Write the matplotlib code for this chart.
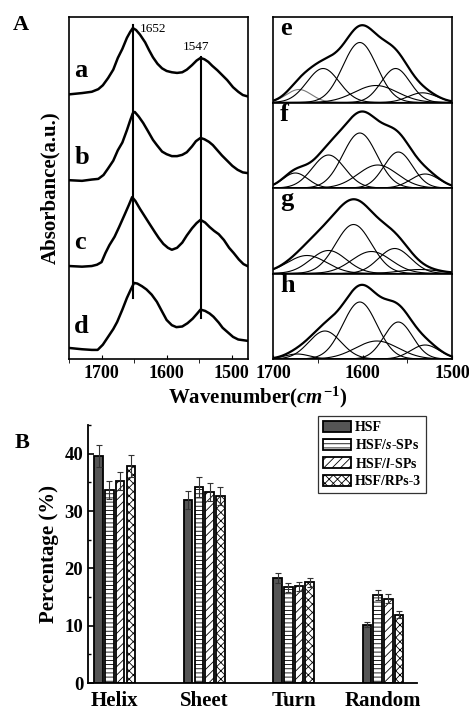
import numpy as np
import matplotlib
matplotlib.use('Agg')
from matplotlib import pyplot as plt
from matplotlib.ticker import MultipleLocator

plt.rcParams['font.family'] = 'Liberation Serif'
plt.rcParams['font.weight'] = 'bold'
plt.rcParams['axes.labelweight'] = 'bold'
plt.rcParams['mathtext.fontset'] = 'custom'
plt.rcParams['mathtext.it'] = 'Liberation Serif:italic:bold'
plt.rcParams['mathtext.rm'] = 'Liberation Serif:bold'
plt.rcParams['mathtext.bf'] = 'Liberation Serif:bold'
plt.rcParams['hatch.linewidth'] = 0.6

# ---- panel A: FTIR spectra (wavenumber, absorbance a.u.) ----
wn_a = [1750, 1730, 1715, 1705, 1698, 1690, 1682, 1675, 1668, 1661, 1656, 1652, 1647, 1641,
        1633, 1627, 1621, 1614, 1607, 1600, 1592, 1584, 1576, 1569, 1561, 1554, 1548, 1542,
        1536, 1530, 1522, 1515, 1507, 1498, 1490, 1483, 1476]
abs_a = [-0.02, 0.00, 0.02, 0.06, 0.12, 0.23, 0.36, 0.54, 0.68, 0.85, 0.94, 1.00, 0.97, 0.90,
         0.78, 0.66, 0.55, 0.45, 0.38, 0.34, 0.32, 0.31, 0.32, 0.36, 0.43, 0.50, 0.54, 0.52,
         0.48, 0.42, 0.35, 0.28, 0.20, 0.09, 0.02, -0.03, -0.05]

wn_b = [1750, 1730, 1715, 1705, 1697, 1690, 1682, 1675, 1668, 1661, 1656, 1652, 1649, 1643,
        1636, 1629, 1621, 1615, 1607, 1600, 1592, 1584, 1576, 1569, 1561, 1555, 1548, 1542,
        1535, 1529, 1522, 1515, 1507, 1499, 1491, 1483, 1476]
abs_b = [0.00, -0.01, 0.01, 0.02, 0.08, 0.18, 0.30, 0.46, 0.58, 0.77, 0.92, 1.03, 1.05, 0.98,
         0.88, 0.76, 0.62, 0.54, 0.44, 0.40, 0.37, 0.37, 0.39, 0.43, 0.52, 0.60, 0.65, 0.63,
         0.59, 0.54, 0.46, 0.38, 0.30, 0.22, 0.16, 0.12, 0.11]

wn_c = [1750, 1730, 1715, 1707, 1700, 1694, 1688, 1680, 1673, 1665, 1658, 1653, 1648, 1641,
        1634, 1627, 1618, 1612, 1605, 1598, 1592, 1584, 1576, 1569, 1561, 1554, 1548, 1541,
        1534, 1527, 1520, 1512, 1504, 1497, 1489, 1482, 1476]
abs_c = [0.00, -0.01, 0.00, 0.02, 0.06, 0.20, 0.32, 0.45, 0.60, 0.78, 0.94, 1.06, 1.00, 0.88,
         0.77, 0.66, 0.52, 0.43, 0.34, 0.28, 0.25, 0.28, 0.36, 0.47, 0.58, 0.66, 0.71, 0.67,
         0.60, 0.54, 0.49, 0.40, 0.28, 0.20, 0.10, 0.03, 0.00]

wn_d = [1750, 1730, 1715, 1706, 1698, 1690, 1682, 1676, 1668, 1661, 1655, 1650, 1645, 1638,
        1631, 1623, 1615, 1607, 1600, 1592, 1585, 1576, 1568, 1560, 1553, 1548, 1541, 1534,
        1528, 1520, 1514, 1506, 1498, 1490, 1483, 1476]
abs_d = [0.03, 0.01, 0.00, 0.00, 0.08, 0.20, 0.32, 0.43, 0.62, 0.80, 0.93, 1.03, 1.02, 0.98,
         0.93, 0.85, 0.74, 0.59, 0.46, 0.38, 0.35, 0.36, 0.41, 0.48, 0.56, 0.62, 0.60, 0.56,
         0.51, 0.42, 0.34, 0.27, 0.20, 0.16, 0.15, 0.14]

spec_names = ['a', 'b', 'c', 'd']
peak_marks = [1652, 1547]

# ---- panels e-h: fitted band components (centre, height, sigma) ----
comp_e = [(1671, 13, 14), (1644, 34, 18), (1603, 60, 19), (1585, 17, 24), (1563, 34, 16), (1533, 9.7, 16)]
comp_f = [(1675, 15, 14), (1638, 33, 18), (1603, 55, 19), (1583, 23, 22), (1560, 36, 16), (1530, 14, 16)]
comp_g = [(1662, 18, 22), (1638, 23, 20), (1610, 49, 20), (1590, 22, 22), (1564, 25, 18), (1536, 4, 22)]
comp_h = [(1673, 5, 14), (1642, 28, 18), (1603, 57, 19), (1584, 18, 24), (1560, 37, 16), (1530, 14, 16)]
fit_names = ['e', 'f', 'g', 'h']

# ---- panel B: secondary structure content ----
structures = ['Helix', 'Sheet', 'Turn', 'Random']
samples = ['HSF', 'HSF/$\\mathit{s}$-SPs', 'HSF/$\\mathit{l}$-SPs', 'HSF/RPs-3']
pct_hsf = [39.6, 31.9, 18.3, 10.2]
pct_s = [33.7, 34.2, 16.7, 15.3]
pct_l = [35.2, 33.3, 16.9, 14.7]
pct_rps = [37.9, 32.6, 17.6, 11.9]
err_hsf = [1.9, 1.6, 0.9, 0.5]
err_s = [1.6, 1.7, 0.8, 0.9]
err_l = [1.6, 1.6, 0.8, 0.8]
err_rps = [1.9, 1.6, 0.8, 0.6]

W, H = 469, 706
fig = plt.figure(figsize=(W / 100, H / 100), dpi=100)


def box(x0, y0, x1, y1):
    return [x0 / W, 1 - y1 / H, (x1 - x0) / W, (y1 - y0) / H]


# panel A
axA = fig.add_axes(box(69, 17, 248, 359))
offsets = [4.09, 2.75, 1.43, 0.14]
for wn, ab, off, nm, ypos in zip([wn_a, wn_b, wn_c, wn_d], [abs_a, abs_b, abs_c, abs_d],
                                 offsets, spec_names, [0.845, 0.588, 0.342, 0.094]):
    axA.plot(wn, np.array(ab) + off, color='black', lw=1.8)
    axA.text(0.03, ypos, nm, transform=axA.transAxes, fontsize=19, va='center', ha='left')
axA.plot([peak_marks[0]] * 2, [0.94, 5.14], color='black', lw=1.5)
axA.plot([peak_marks[1]] * 2, [0.63, 4.65], color='black', lw=1.5)
axA.text(1641, 5.08, str(peak_marks[0]), fontsize=9.5, fontweight='normal', va='center', ha='left')
axA.text(1555, 4.80, str(peak_marks[1]), fontsize=9.5, fontweight='normal', va='center', ha='center')
axA.set_xlim(1750, 1475)
axA.set_ylim(0, 5.26)
axA.set_yticks([])
axA.xaxis.set_major_locator(MultipleLocator(100))
axA.xaxis.set_minor_locator(MultipleLocator(50))
axA.tick_params(axis='x', which='major', direction='in', length=3, labelsize=13, pad=4)
axA.tick_params(axis='x', which='minor', direction='out', length=3)
axA.set_ylabel('Absorbance(a.u.)', fontsize=15, labelpad=6)

# panels e-h
ytops = [17, 102.5, 188, 273.5, 359]
x = np.linspace(1700, 1500, 401)
for i, (comps, nm) in enumerate(zip([comp_e, comp_f, comp_g, comp_h], fit_names)):
    ax = fig.add_axes(box(273, ytops[i], 452, ytops[i + 1]))
    total = np.zeros_like(x)
    for j, (c, h, s) in enumerate(comps):
        g = h * np.exp(-0.5 * ((x - c) / s) ** 2)
        total += g
        col = '#777777' if (i == 0 and j == 0) else 'black'
        ax.plot(x, g, color=col, lw=0.8)
    ax.plot(x, total, color='black', lw=1.6)
    ax.text(0.04, 0.86, nm, transform=ax.transAxes, fontsize=19, va='center', ha='left')
    ax.set_xlim(1700, 1500)
    ax.set_ylim(0, 85.5)
    ax.set_yticks([])
    ax.xaxis.set_major_locator(MultipleLocator(100))
    ax.xaxis.set_minor_locator(MultipleLocator(50))
    ax.tick_params(axis='x', which='major', direction='in', length=3, labelsize=13, pad=4)
    ax.tick_params(axis='x', which='minor', direction='out', length=3)
    if i < 3:
        ax.tick_params(axis='x', which='both', bottom=False, labelbottom=False)
    for sp in ax.spines.values():
        sp.set_linewidth(1.2)
for sp in axA.spines.values():
    sp.set_linewidth(1.2)

fig.text(258 / W, 1 - 397 / H, 'Wavenumber($\\mathit{cm^{-1}}$)', fontsize=15, ha='center', va='center')
fig.text(21 / W, 1 - 25 / H, 'A', fontsize=16, ha='center', va='center')
fig.text(22 / W, 1 - 443 / H, 'B', fontsize=16, ha='center', va='center')

# panel B
axB = fig.add_axes(box(88, 425, 417, 683))
pos = np.arange(len(structures))
bw = 0.095
step = 0.12
styles = [dict(color='#555555', hatch=None), dict(color='white', hatch='----'),
          dict(color='white', hatch='////'), dict(color='white', hatch='xxxx')]
vals = [pct_hsf, pct_s, pct_l, pct_rps]
errs = [err_hsf, err_s, err_l, err_rps]
for k in range(4):
    xs = pos + (k - 1.5) * step
    axB.bar(xs, vals[k], width=bw, facecolor=styles[k]['color'], edgecolor='black',
            hatch=styles[k]['hatch'], lw=1.3, label=samples[k], zorder=2)
    axB.errorbar(xs, vals[k], yerr=errs[k], fmt='none', ecolor='#333333', elinewidth=0.8,
                 capsize=2.5, capthick=0.8, zorder=3)
axB.set_xlim(-0.3, 3.38)
axB.set_ylim(0, 45)
axB.set_xticks(pos)
axB.set_xticklabels(structures, fontsize=15)
axB.tick_params(axis='x', length=0, pad=6)
axB.yaxis.set_major_locator(MultipleLocator(10))
axB.yaxis.set_minor_locator(MultipleLocator(5))
axB.tick_params(axis='y', which='major', direction='in', length=4, labelsize=13.5, width=1.2)
axB.tick_params(axis='y', which='minor', direction='in', length=2.5, width=1)
axB.spines['top'].set_visible(False)
axB.spines['right'].set_visible(False)
axB.spines['left'].set_linewidth(1.3)
axB.spines['bottom'].set_linewidth(1.3)
axB.set_ylabel('Percentage (%)', fontsize=15, labelpad=4)
leg = axB.legend(loc='upper right', bbox_to_anchor=(426 / W, 1 - 416 / H), bbox_transform=fig.transFigure,
                 fontsize=10, frameon=True, fancybox=False, edgecolor='black', handlelength=2.0,
                 handleheight=0.85, labelspacing=0.3, borderpad=0.35, handletextpad=0.3, borderaxespad=0)
leg.get_frame().set_linewidth(0.9)

fig.savefig('out.png', dpi=100)
